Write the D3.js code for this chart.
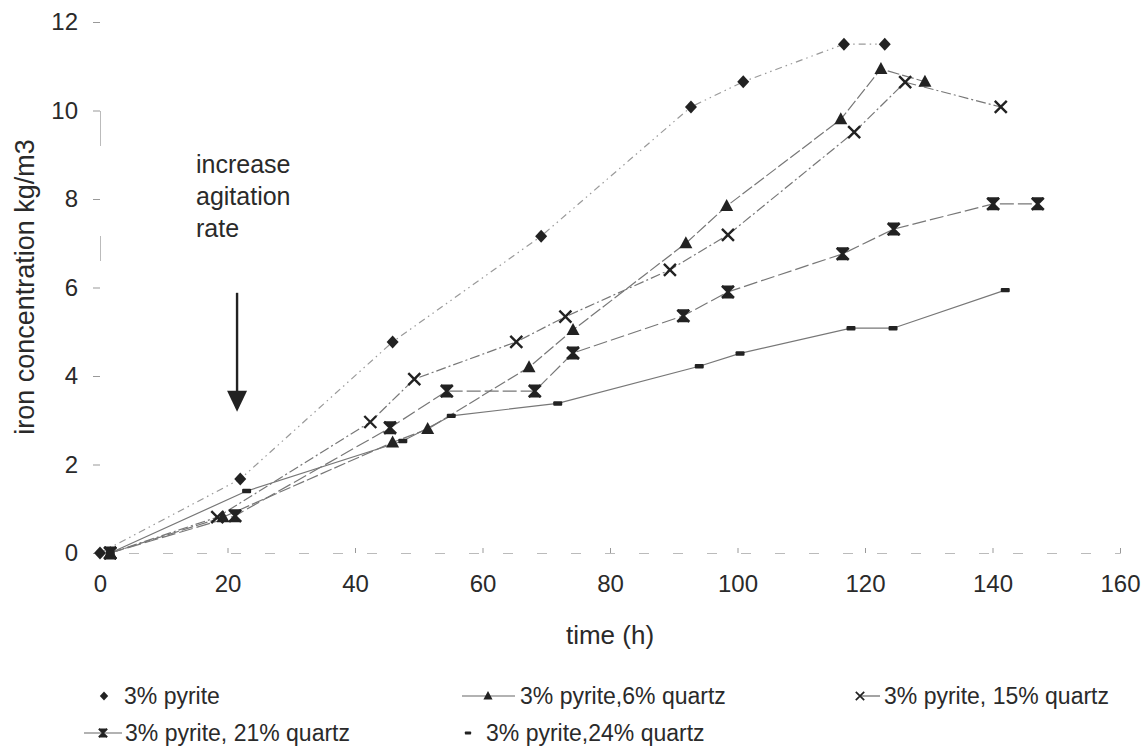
<!DOCTYPE html>
<html>
<head>
<meta charset="utf-8">
<script src="https://cdn.jsdelivr.net/npm/d3@7"></script>
<style>
    body { margin: 0; background: #fff; }
    text { font-family: "Liberation Sans", Arial, sans-serif; fill: #2a2a2a; }
</style>
</head>
<body>
<svg id="chart" width="1147" height="750"></svg>
<script>
// [time h, iron kg/m3]
let pyrite3   = [[0,0],[22,1.67],[45.9,4.77],[69.2,7.16],[92.7,10.08],[100.9,10.65],[116.7,11.5],[123.1,11.5]];
let quartz6   = [[1.6,0],[19.3,0.81],[45.9,2.5],[51.4,2.8],[67.3,4.2],[74.2,5.04],[91.9,7.0],[98.3,7.84],[116.2,9.8],[122.5,10.94],[129.4,10.65]];
let quartz15  = [[1.6,0],[18.4,0.81],[42.4,2.96],[49.3,3.93],[65.3,4.77],[73,5.34],[89.4,6.4],[98.5,7.19],[118.3,9.51],[126.3,10.64],[141.3,10.08]];
let quartz21  = [[1.6,0],[21.2,0.84],[45.5,2.83],[54.4,3.66],[68.2,3.66],[74.2,4.52],[91.5,5.36],[98.5,5.9],[116.5,6.76],[124.5,7.32],[140.1,7.89],[147.1,7.89]];
let quartz24  = [[1.6,0],[23,1.4],[47.5,2.53],[55.1,3.1],[71.8,3.38],[94,4.22],[100.4,4.51],[117.8,5.08],[124.4,5.08],[142,5.94]];

let xTicks = [0, 20, 40, 60, 80, 100, 120, 140, 160];
let yTicks = [0, 2, 4, 6, 8, 10, 12];

let seriesNames = ["3% pyrite", "3% pyrite,6% quartz", "3% pyrite, 15% quartz", "3% pyrite, 21% quartz", "3% pyrite,24% quartz"];

// agitation arrow, in data units
let arrowAt = {t: 21.5, from: 5.88, to: 3.19};
let noteLines = ["increase", "agitation", "rate"];

(function () {
    let svg = d3.select("#chart");
    let x = d3.scaleLinear().domain([0, 160]).range([100, 1120]);
    let y = d3.scaleLinear().domain([0, 12]).range([553, 22]);

    // marker shapes
    let markers = {
        diamond: g => g.append("path").attr("d", "M0,-6.5L6,0L0,6.5L-6,0Z").attr("fill", "#222"),
        triangle: g => g.append("path").attr("d", "M0,-7L6.5,5L-6.5,5Z").attr("fill", "#222"),
        cross: g => g.append("path").attr("d", "M-6,-6L6,6M6,-6L-6,6").attr("stroke", "#222").attr("stroke-width", 2.4),
        hourglass: g => {
            g.append("path").attr("d", "M-6,-6.5L6,-6.5L0,0L6,6.5L-6,6.5L0,0Z").attr("fill", "#222");
            g.append("path").attr("d", "M-6,-6L6,6M6,-6L-6,6").attr("stroke", "#222").attr("stroke-width", 2.6);
        },
        dash: g => g.append("rect").attr("x", -4.5).attr("y", -2.2).attr("width", 9).attr("height", 4.4).attr("rx", 1).attr("fill", "#222")
    };

    let series = [
        {data: pyrite3,  marker: "diamond",   dash: "7,4,1.5,4,1.5,4", color: "#9a9a9a"},
        {data: quartz6,  marker: "triangle",  dash: "12,3",            color: "#777"},
        {data: quartz15, marker: "cross",     dash: "10,3,2,3",        color: "#777"},
        {data: quartz21, marker: "hourglass", dash: "14,4",            color: "#777"},
        {data: quartz24, marker: "dash",      dash: null,              color: "#777"}
    ];

    // axes (the scan shows them mostly washed out)
    let xAxis = d3.axisBottom(x).tickValues(xTicks).tickSize(-5).tickPadding(22);
    let gx = svg.append("g").attr("transform", "translate(0," + y(0) + ")").call(xAxis);
    gx.select(".domain").attr("stroke", "#bbb").attr("stroke-dasharray", "10,24");
    gx.selectAll(".tick line").attr("stroke", "#999");
    gx.selectAll(".tick text").attr("font-size", 24).attr("fill", "#2a2a2a")
        .attr("font-family", "Liberation Sans, Arial, sans-serif");

    let yAxis = d3.axisLeft(y).tickValues(yTicks).tickSize(7).tickPadding(15);
    let gy = svg.append("g").attr("transform", "translate(" + x(0) + ",0)").call(yAxis);
    gy.select(".domain").attr("stroke", "#bbb").attr("stroke-dasharray", "0,300,25,90,35,200");
    gy.selectAll(".tick line").attr("stroke", "#999");
    gy.selectAll(".tick text").attr("font-size", 24).attr("fill", "#2a2a2a")
        .attr("font-family", "Liberation Sans, Arial, sans-serif");

    svg.append("text").attr("x", 610).attr("y", 644).attr("text-anchor", "middle")
        .attr("font-size", 26).text("time (h)");
    svg.append("text").attr("transform", "translate(34,287) rotate(-90)").attr("text-anchor", "middle")
        .attr("font-size", 27).text("iron concentration kg/m3");

    // lines, then markers on top
    let line = d3.line().x(d => x(d[0])).y(d => y(d[1]));
    series.forEach(function (s) {
        svg.append("path").datum(s.data).attr("d", line).attr("fill", "none")
            .attr("stroke", s.color).attr("stroke-width", 1.2)
            .attr("stroke-dasharray", s.dash);
    });
    series.forEach(function (s) {
        s.data.forEach(function (d) {
            let g = svg.append("g").attr("transform", "translate(" + x(d[0]) + "," + y(d[1]) + ")");
            markers[s.marker](g);
        });
    });

    // annotation
    let ax = x(arrowAt.t);
    svg.append("line").attr("x1", ax).attr("x2", ax).attr("y1", y(arrowAt.from)).attr("y2", y(arrowAt.to) - 18)
        .attr("stroke", "#222").attr("stroke-width", 2.4);
    svg.append("path").attr("fill", "#222")
        .attr("d", "M" + (ax - 10) + "," + (y(arrowAt.to) - 21) + "L" + (ax + 10) + "," + (y(arrowAt.to) - 21) + "L" + ax + "," + y(arrowAt.to) + "Z");
    noteLines.forEach(function (t, i) {
        svg.append("text").attr("x", 196).attr("y", 173 + i * 32).attr("font-size", 25).text(t);
    });

    // legend
    let legend = [
        {sx: 104, lx1: null, lx2: null, tx: 124, ty: 696},
        {sx: 488, lx1: 462, lx2: 515, tx: 520, ty: 696},
        {sx: 860, lx1: 860, lx2: 880, tx: 884, ty: 696},
        {sx: 103, lx1: 84,  lx2: 122, tx: 125, ty: 733},
        {sx: 468, lx1: null, lx2: null, tx: 486, ty: 733}
    ];
    legend.forEach(function (l, i) {
        if (l.lx1 !== null) svg.append("line").attr("x1", l.lx1).attr("x2", l.lx2).attr("y1", l.ty).attr("y2", l.ty)
            .attr("stroke", "#666").attr("stroke-width", 1.2);
        let g = svg.append("g").attr("transform", "translate(" + l.sx + "," + l.ty + ") scale(0.7)");
        markers[series[i].marker](g);
        svg.append("text").attr("x", l.tx).attr("y", l.ty).attr("dy", "0.35em").attr("font-size", 23).text(seriesNames[i]);
    });
})();
</script>
</body>
</html>
